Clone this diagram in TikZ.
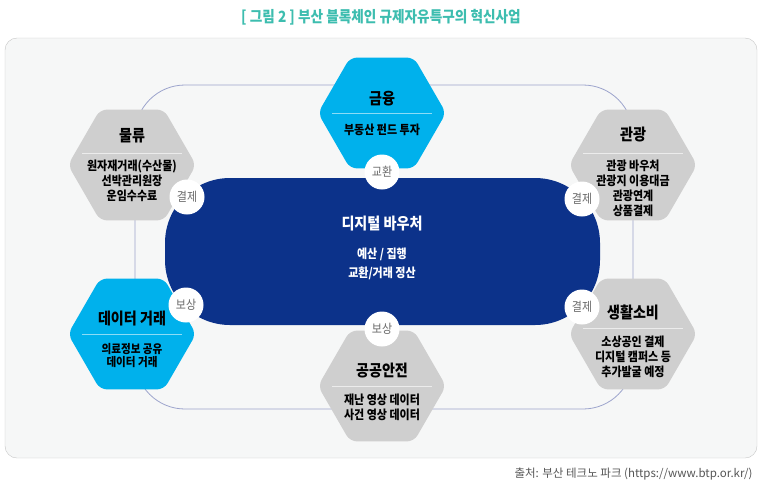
\documentclass[tikz,border=0pt]{standalone}
\usepackage{fontspec}
\setmainfont{Noto Sans CJK KR}
\newfontfamily\cond[FakeStretch=0.88]{Noto Sans CJK KR}
\usepackage{tikz}
\usetikzlibrary{shapes.geometric, positioning}
\definecolor{navy}{HTML}{0C328A}
\definecolor{sky}{HTML}{00B1EC}
\definecolor{hexgray}{HTML}{CFCFCF}
\definecolor{ringline}{HTML}{9CA4CC}
\definecolor{titleteal}{HTML}{3DBDAF}
\definecolor{labelgray}{HTML}{6A6A6A}
\definecolor{framegray}{HTML}{C4C4C4}
\definecolor{framefill}{HTML}{F6F7F7}

\begin{document}
\begin{tikzpicture}[
        x=1pt, y=-1pt,
        every node/.style={font=\cond\fontsize{12}{15}\selectfont},
        hexbox/.style={regular polygon, regular polygon sides=6,
                       minimum size=128pt, inner sep=0pt, rounded corners=7pt},
        hextitle/.style={font=\cond\bfseries\fontsize{16}{18}\selectfont},
        hexsub/.style={align=center, font=\cond\bfseries\fontsize{12.5}{15}\selectfont},
        badge/.style={circle, fill=white, minimum size=35pt, inner sep=0pt,
                      text=labelgray, font=\cond\fontsize{12.5}{15}\selectfont},
      ]
      \useasboundingbox (0,0) rectangle (760,488);

      % Rahmen und Titel
      \draw[framegray, fill=framefill, rounded corners=12pt] (5,38) rectangle (757,458);
      \node[text=titleteal, font=\cond\bfseries\fontsize{15.5}{17}\selectfont] (title) at (381,17)
        {[ 그림 2 ] 부산 블록체인 규제자유특구의 혁신사업};
      \node[anchor=east, text=labelgray!80!black, font=\fontsize{11.5}{14}\selectfont] (source)
        at (756,474) {출처: 부산 테크노 파크 (https://www.btp.or.kr/)};

      % Ring
      \draw[ringline, line width=0.8pt, rounded corners=50pt] (135,85) rectangle (633,409);

      % Sechsecke
      \node[hexbox, fill=sky] (finance) at (382,113) {};
      \node[hexbox, fill=hexgray] (logistics) at (132,165) {};
      \node[hexbox, fill=hexgray] (tourism) at (633,165) {};
      \node[hexbox, fill=sky] (data) at (132,334) {};
      \node[hexbox, fill=hexgray] (living) at (633,334) {};
      \node[hexbox, fill=hexgray] (safety) at (382,386) {};

      % Texte in den Sechsecken
      \node[hextitle] (finance-t) at (382,99) {금융};
      \draw[white!55!sky, line width=0.8pt] (332,113) -- (432,113);
      \node[hexsub] (finance-s) at (382,130) {부동산 펀드 투자};

      \node[hextitle] (logistics-t) at (132,136) {물류};
      \draw[white!60!hexgray, line width=0.8pt] (82,153) -- (182,153);
      \node[hexsub] (logistics-s) at (132,181) {원자재거래(수산물)\\선박관리원장\\운임수수료};

      \node[hextitle] (tourism-t) at (633,135) {관광};
      \draw[white!60!hexgray, line width=0.8pt] (583,153) -- (683,153);
      \node[hexsub] (tourism-s) at (633,188.5) {관광 바우처\\관광지 이용대금\\관광연계\\상품결제};

      \node[hextitle] (data-t) at (132,319) {데이터 거래};
      \draw[white!55!sky, line width=0.8pt] (82,334) -- (182,334);
      \node[hexsub, font=\cond\bfseries\fontsize{12}{13}\selectfont] (data-s) at (132,356)
        {의료정보 공유\\데이터 거래};

      \node[hextitle] (living-t) at (633,312) {생활소비};
      \draw[white!60!hexgray, line width=0.8pt] (583,328) -- (683,328);
      \node[hexsub] (living-s) at (633,357) {소상공인 결제\\디지털 캠퍼스 등\\추가발굴 예정};

      \node[hextitle] (safety-t) at (382,371) {공공안전};
      \draw[white!60!hexgray, line width=0.8pt] (332,386) -- (432,386);
      \node[hexsub] (safety-s) at (382,407.5) {재난 영상 데이터\\사건 영상 데이터};

      % Digitaler Voucher
      \fill[navy, rounded corners=65pt] (165,178) rectangle (600,325);
      \node[white, font=\cond\bfseries\fontsize{16}{18}\selectfont] (voucher) at (382,224) {디지털 바우처};
      \node[white, align=center, font=\cond\bfseries\fontsize{12.5}{19}\selectfont] (voucher-s)
        at (382,263.5) {예산 / 집행\\교환/거래 정산};

      % Kreise
      \node[badge] (b-finance) at (382,172) {교환};
      \node[badge] (b-logistics) at (187,197) {결제};
      \node[badge] (b-tourism) at (582,199) {결제};
      \node[badge] (b-data) at (186,305) {보상};
      \node[badge] (b-living) at (582,307) {결제};
      \node[badge] (b-safety) at (382,329) {보상};
    \end{tikzpicture}
\end{document}
